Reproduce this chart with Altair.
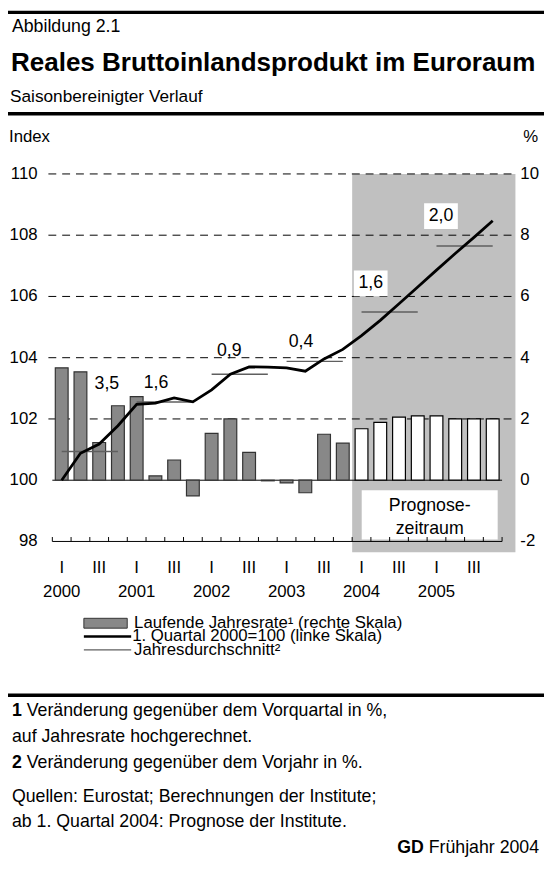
import altair as alt
import pandas as pd

# ---------------- data ----------------
years = [2000, 2001, 2002, 2003, 2004, 2005]
quarter_names = ["I", "", "III", ""]
# laufende Jahresrate (right scale, %)
rate = [3.67, 3.54, 1.23, 2.43, 2.73, 0.14, 0.66, -0.51,
        1.53, 2.00, 0.91, -0.02, -0.09, -0.41, 1.50, 1.21,
        1.68, 1.89, 2.06, 2.10, 2.10, 2.00, 2.00, 2.00]
# Index, 1. Quartal 2000 = 100 (left scale)
index_level = [100.00, 100.88, 101.18, 101.78, 102.48, 102.52, 102.69, 102.56,
               102.95, 103.46, 103.70, 103.69, 103.67, 103.56, 103.96, 104.27,
               104.72, 105.22, 105.76, 106.31, 106.86, 107.40, 107.93, 108.47]
annual_avg = [100.94, 102.55, 103.46, 103.88, 105.49, 107.65]
annual_growth = ["3,5", "1,6", "0,9", "0,4", "1,6", "2,0"]
# annotation anchors (quarter units / index units)
label_x = [2.91, 5.53, 9.44, 13.27, 16.99, 20.74]
label_y = [103.13, 103.16, 104.20, 104.50, 106.43, 108.62]
forecast_start = 16
left_ticks = [98, 100, 102, 104, 106, 108, 110]
right_ticks = [-2, 0, 2, 4, 6, 8, 10]

FONT = "Liberation Sans"
OX, OY = 48, 170          # page position of plot origin
W, H = 475, 373

xs = alt.Scale(domain=[0, 24.45], nice=False, zero=False)
ys = alt.Scale(domain=[98, 110], nice=False, zero=False)


def X(f):
    return alt.X(f, type="quantitative", scale=xs, axis=None)


def X2(f):
    return alt.X2(f)


def Y(f):
    return alt.Y(f, type="quantitative", scale=ys, axis=None)


one = pd.DataFrame({"a": [0]})


def txt(s, px, py, size=17, weight="normal", align="left", baseline="middle", color="black"):
    return alt.Chart(one).mark_text(
        text=s, font=FONT, fontSize=size, fontWeight=weight, align=align,
        baseline=baseline, color=color
    ).encode(x=alt.value(px - OX), y=alt.value(py - OY))


def hline(px1, px2, py, width, color="black"):
    return alt.Chart(one).mark_rule(strokeWidth=width, color=color).encode(
        x=alt.value(px1 - OX), x2=alt.value(px2 - OX), y=alt.value(py - OY))


n = len(rate)
qdf = pd.DataFrame({
    "q": list(range(n)),
    "center": [i + 0.5 for i in range(n)],
    "rate": rate,
    "top": [100 + r for r in rate],
    "base": [100.0] * n,
    "index": index_level,
    "kind": ["forecast" if i >= forecast_start else "actual" for i in range(n)],
})

avg_df = pd.DataFrame({
    "x0": [4 * k + 0.5 for k in range(len(years))],
    "x1": [4 * k + 3.5 for k in range(len(years))],
    "y": annual_avg,
})

lab_df = pd.DataFrame({
    "x": label_x, "y": label_y, "t": annual_growth,
    "forecast": [y >= 2004 for y in years],
    "bx0": [v - 0.9 for v in label_x], "bx1": [v + 0.9 for v in label_x],
    "by0": [v - 0.42 for v in label_y], "by1": [v + 0.42 for v in label_y],
})

# shading of forecast period
shade = alt.Chart(pd.DataFrame({"s": [forecast_start]})).mark_rect(color="#c0c0c0").encode(
    x=X("s"), x2=alt.value(W), y=alt.value(0), y2=alt.value(384))

grid = alt.Chart(pd.DataFrame({"v": left_ticks[2:]})).mark_rule(
    color="black", strokeWidth=1, strokeDash=[8, 6]).encode(
    x=alt.value(1), x2=alt.value(W), y=Y("v"))

zero = alt.Chart(pd.DataFrame({"a": [0], "b": [24], "v": [100]})).mark_rule(
    color="black", strokeWidth=1).encode(x=X("a"), x2=X2("b"), y=Y("v"))

prog_box = alt.Chart(one).mark_rect(color="white").encode(
    x=alt.value(367 - OX), x2=alt.value(505 - OX), y=alt.value(491 - OY), y2=alt.value(541 - OY))
prog_t1 = txt("Prognose-", 436, 507, size=18, align="center")
prog_t2 = txt("zeitraum", 436, 530, size=18, align="center")

bars = alt.Chart(qdf).mark_bar(size=13, strokeWidth=1.2).encode(
    x=X("center"), y=Y("top"), y2=alt.Y2("base"),
    fill=alt.Fill("kind:N", scale=alt.Scale(domain=["actual", "forecast"], range=["#888888", "#ffffff"]), legend=None),
    stroke=alt.Stroke("kind:N", scale=alt.Scale(domain=["actual", "forecast"], range=["#333333", "#000000"]), legend=None),
)

avg = alt.Chart(avg_df).mark_rule(color="#5f5f5f", strokeWidth=1.5).encode(
    x=X("x0"), x2=X2("x1"), y=Y("y"))

line = alt.Chart(qdf).mark_line(color="black", strokeWidth=2.8).encode(
    x=X("center"), y=Y("index"))

lab_boxes = alt.Chart(lab_df).transform_filter("datum.forecast").mark_rect(color="white").encode(
    x=X("bx0"), x2=X2("bx1"), y=Y("by0"), y2=alt.Y2("by1"))
labels = alt.Chart(lab_df).mark_text(font=FONT, fontSize=18, color="black").encode(
    x=X("x"), y=Y("y"), text="t:N")

# x axis
axis_line = alt.Chart(pd.DataFrame({"a": [0], "b": [24]})).mark_rule(color="black", strokeWidth=1).encode(
    x=X("a"), x2=X2("b"), y=alt.value(H))
ticks = alt.Chart(pd.DataFrame({"t": list(range(25))})).mark_rule(color="black", strokeWidth=1).encode(
    x=X("t"), y=alt.value(H), y2=alt.value(H - 4.5))
qlab_df = pd.DataFrame({
    "c": [i + 0.5 for i in range(n)],
    "l": [quarter_names[i % 4] for i in range(n)],
})
qlabels = alt.Chart(qlab_df).transform_filter("datum.l != ''").mark_text(
    font=FONT, fontSize=17, baseline="middle").encode(x=X("c"), y=alt.value(570 - OY), text="l:N")
ylab_df = pd.DataFrame({"c": [4 * k + 0.5 for k in range(len(years))], "y": [str(v) for v in years]})
ylabels = alt.Chart(ylab_df).mark_text(font=FONT, fontSize=17, baseline="middle").encode(
    x=X("c"), y=alt.value(594 - OY), text="y:N")

# y axis labels
lt_df = pd.DataFrame({"v": left_ticks, "t": [str(v) for v in left_ticks]})
left_lab = alt.Chart(lt_df).mark_text(font=FONT, fontSize=17, align="right", baseline="middle").encode(
    x=alt.value(38 - OX), y=Y("v"), text="t:N")
rt_df = pd.DataFrame({"v": [100 + v for v in right_ticks], "t": [str(v) for v in right_ticks]})
right_lab = alt.Chart(rt_df).mark_text(font=FONT, fontSize=17, align="left", baseline="middle").encode(
    x=alt.value(528 - OX), y=Y("v"), text="t:N")

# header
header = [
    hline(8, 552, 6, 3.5),
    txt("Abbildung 2.1", 12, 21, size=18),
    txt("Reales Bruttoinlandsprodukt im Euroraum", 11, 58, size=26.4, weight="bold"),
    txt("Saisonbereinigter Verlauf", 10, 92, size=17.5),
    hline(8, 552, 109, 3.5),
    txt("Index", 9, 133, size=17),
    txt("%", 531, 133, size=17),
]

# legend
legend = [
    alt.Chart(one).mark_rect(fill="#888888", stroke="#333333", strokeWidth=1).encode(
        x=alt.value(85 - OX), x2=alt.value(129 - OX), y=alt.value(621 - OY), y2=alt.value(631 - OY)),
    hline(85, 133, 639.5, 2.6),
    hline(85, 133, 653, 1.3, color="#5f5f5f"),
    txt("Laufende Jahresrate¹ (rechte Skala)", 136, 626, size=17),
    txt("1. Quartal 2000=100 (linke Skala)", 134, 639.5, size=17),
    txt("Jahresdurchschnitt²", 136, 653, size=17),
]

# footer
footer = [
    hline(8, 552, 699, 3.5),
    txt("1", 12, 715, size=18, weight="bold"),
    txt("Veränderung gegenüber dem Vorquartal in %,", 27, 715, size=18),
    txt("auf Jahresrate hochgerechnet.", 12, 742, size=18),
    txt("2", 12, 768, size=18, weight="bold"),
    txt("Veränderung gegenüber dem Vorjahr in %.", 27, 768, size=18),
    txt("Quellen: Eurostat; Berechnungen der Institute;", 12, 802, size=18),
    txt("ab 1. Quartal 2004: Prognose der Institute.", 12, 828, size=18),
    txt("Frühjahr 2004", 547, 854, size=18, align="right"),
    txt("GD", 430, 854, size=18, align="right", weight="bold"),
]

chart = alt.layer(
    shade, grid, prog_box, prog_t1, prog_t2, zero, bars, avg, line, lab_boxes, labels,
    axis_line, ticks, qlabels, ylabels, left_lab, right_lab,
    *header, *legend, *footer
).properties(
    width=W, height=H,
    padding={"left": OX - 8, "top": OY - 8, "right": 29, "bottom": 325},
    autosize=alt.AutoSizeParams(type="none"),
).configure_view(strokeWidth=0)

chart.save("out.html", embed_options={"renderer": "svg", "actions": False})
